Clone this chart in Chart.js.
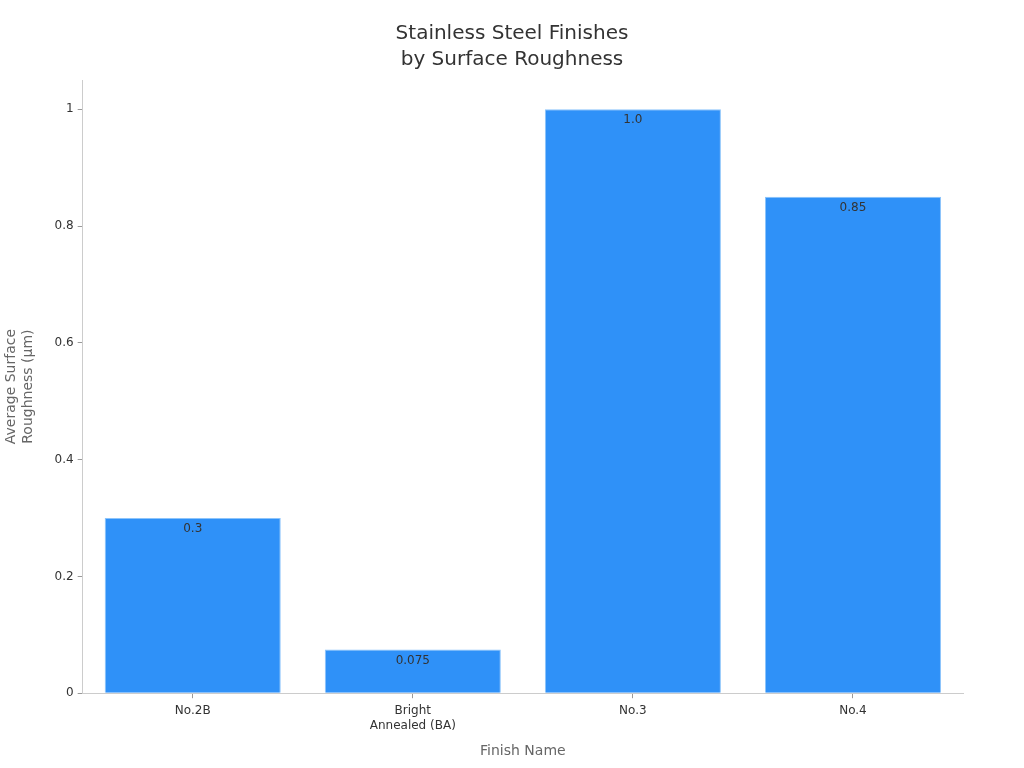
<!DOCTYPE html>
<html><head><meta charset="utf-8">
<script src="https://cdn.jsdelivr.net/npm/chart.js@4/dist/chart.umd.min.js"></script>
<style>html,body{margin:0;padding:0;background:#fff}#wrap{width:1024px;height:768px}</style>
</head><body><div id="wrap"><canvas id="c" width="1024" height="768"></canvas></div>
<script>
const categories = [["No.2B"], ["Bright", "Annealed (BA)"], ["No.3"], ["No.4"]];
const roughness = [0.3, 0.075, 1.0, 0.85];
const valueLabels = ["0.3", "0.075", "1.0", "0.85"];
const yTicks = [0, 0.2, 0.4, 0.6, 0.8, 1];
const titleLines = ["Stainless Steel Finishes", "by Surface Roughness"];

const FONT = "'DejaVu Sans', sans-serif";

const valueLabelPlugin = {
  id: 'valueLabels',
  afterDatasetsDraw(chart) {
    const ctx = chart.ctx;
    const meta = chart.getDatasetMeta(0);
    ctx.save();
    ctx.font = "12px " + FONT;
    ctx.fillStyle = '#333333';
    ctx.textAlign = 'center';
    ctx.textBaseline = 'middle';
    meta.data.forEach((bar, i) => {
      ctx.fillText(valueLabels[i], bar.x, bar.y + 11);
    });
    ctx.restore();
  }
};

const centeredTitlePlugin = {
  id: 'centeredTitle',
  afterDraw(chart) {
    const ctx = chart.ctx;
    ctx.save();
    ctx.font = "20px " + FONT;
    ctx.fillStyle = '#333333';
    ctx.textAlign = 'center';
    ctx.textBaseline = 'middle';
    titleLines.forEach((t, i) => ctx.fillText(t, chart.width / 2, 34 + i * 26));
    ctx.restore();
  }
};

new Chart(document.getElementById('c'), {
  type: 'bar',
  data: {
    labels: categories,
    datasets: [{
      data: roughness,
      backgroundColor: '#2F91F8',
      borderColor: '#8CC4FB',
      borderWidth: 1,
      categoryPercentage: 1.0,
      barPercentage: 0.8
    }]
  },
  options: {
    responsive: false,
    animation: false,
    devicePixelRatio: 1,
    layout: { padding: { left: 3, right: 61, top: 80, bottom: 8 } },
    plugins: {
      legend: { display: false },
      tooltip: { enabled: false },
      title: { display: false }
    },
    scales: {
      x: {
        grid: { display: true, offset: false, drawOnChartArea: false, drawTicks: true, tickLength: 5, color: '#999999' },
        border: { display: true, color: '#cccccc' },
        ticks: { font: { family: FONT, size: 12, lineHeight: 1.25 }, color: '#333333', padding: 5, maxRotation: 0 },
        title: {
          display: true, text: 'Finish Name',
          font: { family: FONT, size: 14 }, color: '#666666',
          padding: { top: 5, bottom: 0 }
        }
      },
      y: {
        min: 0, max: 1.05,
        afterBuildTicks(axis) { axis.ticks = yTicks.map(v => ({ value: v })); },
        grid: { display: true, drawOnChartArea: false, drawTicks: true, tickLength: 5, color: '#999999' },
        border: { display: true, color: '#cccccc' },
        ticks: {
          font: { family: FONT, size: 12 }, color: '#333333', padding: 4,
          callback: (v) => String(Math.round(v * 10) / 10)
        },
        title: {
          display: true, text: ['Average Surface', 'Roughness (μm)'],
          font: { family: FONT, size: 14, lineHeight: 1.2 }, color: '#666666',
          padding: { top: 0, bottom: 14 }
        }
      }
    }
  },
  plugins: [valueLabelPlugin, centeredTitlePlugin]
});
</script>
</body></html>
